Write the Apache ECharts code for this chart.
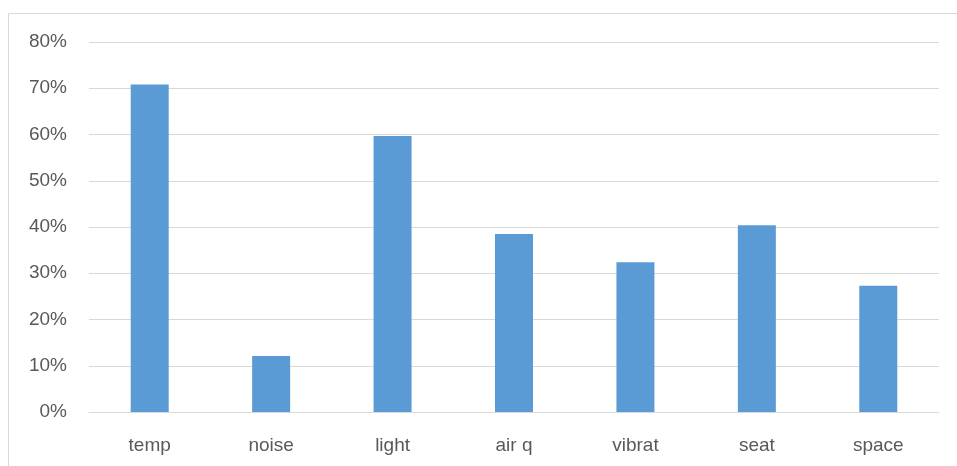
<!DOCTYPE html>
<html>
<head>
<meta charset="utf-8">
<script src="https://cdn.jsdelivr.net/npm/echarts@6/dist/echarts.min.js"></script>
<style>
html,body{margin:0;padding:0;background:#fff;}
#c{width:957px;height:466px;}
</style>
</head>
<body>
<div id="c"></div>
<script>
const categories = ['temp', 'noise', 'light', 'air q', 'vibrat', 'seat', 'space'];
const values = [0.708, 0.121, 0.597, 0.385, 0.324, 0.404, 0.273];
const yTicks = [0, 0.1, 0.2, 0.3, 0.4, 0.5, 0.6, 0.7, 0.8];

const chart = echarts.init(document.getElementById('c'), null, {renderer: 'canvas'});
chart.setOption({
  animation: false,
  backgroundColor: '#fff',
  graphic: [{
    type: 'rect',
    shape: {x: 8.5, y: 13.5, width: 1200, height: 1200},
    style: {fill: 'none', stroke: '#d9d9d9', lineWidth: 1},
    silent: true
  }],
  grid: {left: 89, right: 18, top: 42, bottom: 54, containLabel: false},
  xAxis: {
    type: 'category',
    data: categories,
    axisLine: {show: true, lineStyle: {color: '#d9d9d9', width: 1}},
    axisTick: {show: false},
    axisLabel: {color: '#595959', fontSize: 19, fontFamily: 'Liberation Sans, Arial, sans-serif', margin: 24}
  },
  yAxis: {
    type: 'value',
    min: yTicks[0],
    max: yTicks[yTicks.length - 1],
    interval: 0.1,
    axisLine: {show: false},
    axisTick: {show: false},
    splitLine: {lineStyle: {color: '#d9d9d9', width: 1}},
    axisLabel: {
      color: '#595959', fontSize: 19, fontFamily: 'Liberation Sans, Arial, sans-serif', margin: 22,
      formatter: v => Math.round(v * 100) + '%'
    }
  },
  series: [{
    type: 'bar',
    data: values,
    barWidth: 38,
    itemStyle: {color: '#5b9bd5'}
  }]
});
</script>
</body>
</html>
